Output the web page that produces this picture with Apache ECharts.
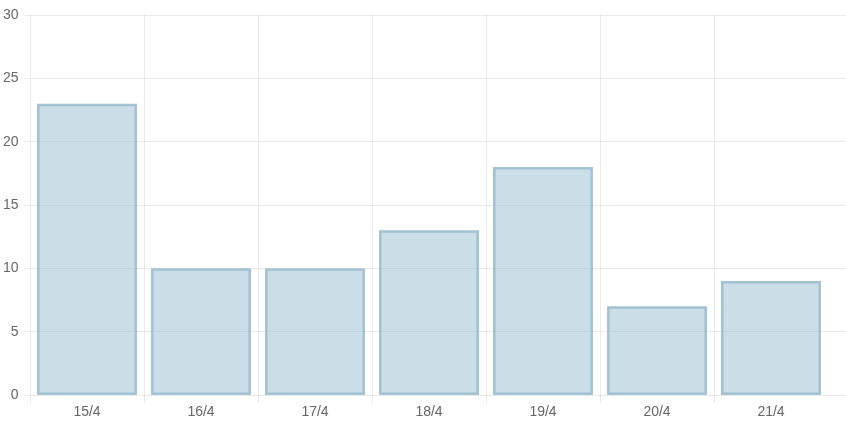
<!DOCTYPE html>
<html><head><meta charset="utf-8">
<script src="https://cdn.jsdelivr.net/npm/echarts@6/dist/echarts.min.js"></script>
<style>html,body{margin:0;padding:0;background:#fff}#c{width:846px;height:422px}</style>
</head><body><div id="c"></div>
<script>
const categories = ['15/4','16/4','17/4','18/4','19/4','20/4','21/4'];
const values = [23, 10, 10, 13, 18, 7, 9];
const yTicks = {min: 0, max: 30, interval: 5};

const gridColor = 'rgba(0,0,0,0.08)';
const textStyle = {color: '#666', fontSize: 14, fontFamily: 'Liberation Sans, Arial, sans-serif'};
const chart = echarts.init(document.getElementById('c'), null, {renderer: 'canvas'});
chart.setOption({
  animation: false,
  grid: [
    {left: 30, right: 0, top: 15, bottom: 27},
    {left: 30, right: 18, top: 15, bottom: 27},
    {left: 30, right: 132, top: 15, bottom: 27}
  ],
  xAxis: [
    {gridIndex: 0, type: 'value', show: false, min: 0, max: 1},
    {gridIndex: 1, type: 'category', data: categories,
     axisLine: {show: false}, axisTick: {show: false}, splitLine: {show: false},
     axisLabel: Object.assign({margin: 10}, textStyle)},
    {gridIndex: 2, type: 'value', min: 0, max: categories.length - 1, interval: 1,
     axisLine: {show: false}, axisLabel: {show: false},
     axisTick: {show: true, length: 8, lineStyle: {color: gridColor}},
     splitLine: {show: true, lineStyle: {color: gridColor, width: 1}}}
  ],
  yAxis: [
    {gridIndex: 0, type: 'value', min: yTicks.min, max: yTicks.max, interval: yTicks.interval,
     axisLine: {show: false},
     axisTick: {show: true, length: 8, lineStyle: {color: gridColor}},
     axisLabel: Object.assign({margin: 14}, textStyle),
     splitLine: {show: true, lineStyle: {color: gridColor, width: 1}}},
    {gridIndex: 1, type: 'value', min: yTicks.min, max: yTicks.max, interval: yTicks.interval, show: false},
    {gridIndex: 2, type: 'value', min: yTicks.min, max: yTicks.max, interval: yTicks.interval, show: false}
  ],
  series: [{
    type: 'bar', xAxisIndex: 1, yAxisIndex: 1, data: values, barWidth: 100,
    itemStyle: {color: 'rgba(151,187,205,0.5)', borderColor: 'rgba(151,187,205,0.85)', borderWidth: 2.5}
  }]
});
</script></body></html>
